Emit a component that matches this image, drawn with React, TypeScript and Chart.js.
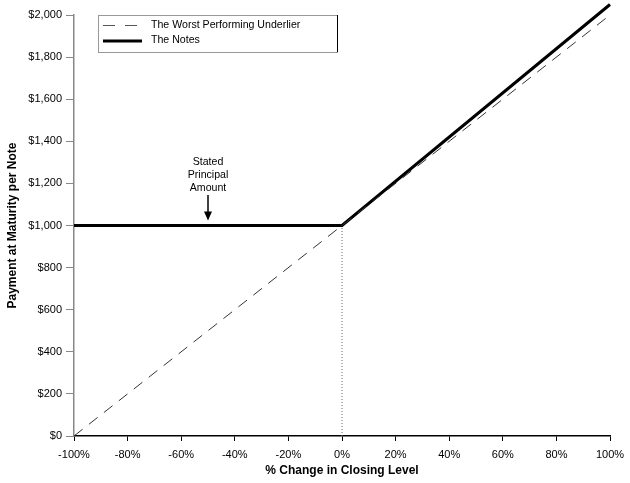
import React, { useEffect, useRef } from "react";
import { Chart, registerables } from "chart.js";

Chart.register(...registerables);

const underlierX = [-100, 100];
const underlierY = [0, 2000];
const notesX = [-100, 0, 100];
const notesY = [1000, 1000, 2050];
const dottedX = [0, 0];
const dottedY = [0, 1000];
const xTicks = [-100, -80, -60, -40, -20, 0, 20, 40, 60, 80, 100];
const yTicks = [0, 200, 400, 600, 800, 1000, 1200, 1400, 1600, 1800, 2000];
const legendLabels = ["The Worst Performing Underlier", "The Notes"];
const annotationLines = ["Stated", "Principal", "Amount"];
const annotationX = -50;
const annotationY = 1000;

const FONT = "'Liberation Sans', Arial, sans-serif";

const pts = (xs: number[], ys: number[]) => xs.map((x, i) => ({ x, y: ys[i] }));

const overlay = {
  id: "overlay",
  afterDraw(chart: any) {
    const ctx = chart.ctx;
    const xs = chart.scales.x;
    const ys = chart.scales.y;
    ctx.save();
    // legend box
    const bx = 98, by = 15, bw = 239, bh = 37;
    ctx.fillStyle = "#fff";
    ctx.fillRect(bx, by, bw, bh);
    ctx.strokeStyle = "#999";
    ctx.lineWidth = 1;
    ctx.strokeRect(bx + 0.5, by + 0.5, bw, bh);
    ctx.strokeStyle = "#000";
    ctx.beginPath();
    ctx.moveTo(bx + bw + 0.5, by);
    ctx.lineTo(bx + bw + 0.5, by + bh);
    ctx.stroke();
    // dashed sample
    ctx.strokeStyle = "#555";
    ctx.lineWidth = 1;
    ctx.setLineDash([12, 10]);
    ctx.beginPath();
    ctx.moveTo(103, 25.5);
    ctx.lineTo(142, 25.5);
    ctx.stroke();
    ctx.setLineDash([]);
    ctx.strokeStyle = "#000";
    ctx.lineWidth = 3;
    ctx.beginPath();
    ctx.moveTo(103, 41);
    ctx.lineTo(142, 41);
    ctx.stroke();
    ctx.fillStyle = "#000";
    ctx.font = `10.6px ${FONT}`;
    ctx.textAlign = "left";
    ctx.textBaseline = "middle";
    ctx.fillText(legendLabels[0], 151, 25);
    ctx.fillText(legendLabels[1], 151, 40);
    // annotation
    const ax = xs.getPixelForValue(annotationX);
    const ay = ys.getPixelForValue(annotationY);
    ctx.textAlign = "center";
    annotationLines.forEach((t, i) => ctx.fillText(t, ax, 162 + i * 13));
    ctx.lineWidth = 1.5;
    ctx.beginPath();
    ctx.moveTo(ax, 195);
    ctx.lineTo(ax, ay - 12);
    ctx.stroke();
    ctx.beginPath();
    ctx.moveTo(ax - 4, ay - 14);
    ctx.lineTo(ax + 4, ay - 14);
    ctx.lineTo(ax, ay - 5);
    ctx.closePath();
    ctx.fill();
    ctx.restore();
  },
};

export default function App() {
  const ref = useRef<HTMLCanvasElement>(null);
  useEffect(() => {
    const chart = new Chart(ref.current!, {
      type: "scatter",
      data: {
        datasets: [
          {
            label: "dotted",
            data: pts(dottedX, dottedY),
            showLine: true,
            borderColor: "#666",
            borderWidth: 1,
            borderDash: [1, 2],
            pointRadius: 0,
          },
          {
            label: legendLabels[0],
            data: pts(underlierX, underlierY),
            showLine: true,
            borderColor: "#333",
            borderWidth: 1,
            borderDash: [11, 8],
            pointRadius: 0,
          },
          {
            label: legendLabels[1],
            data: pts(notesX, notesY),
            showLine: true,
            borderColor: "#000",
            borderWidth: 3,
            pointRadius: 0,
            clip: false as any,
          },
        ],
      },
      options: {
        animation: false,
        responsive: false,
        maintainAspectRatio: false,
        layout: { padding: { left: 0, top: 15, right: 20, bottom: 0 } },
        plugins: { legend: { display: false }, tooltip: { enabled: false } },
        scales: {
          x: {
            type: "linear",
            min: -100,
            max: 100,
            afterFit: (s: any) => { s.height = 47; s.paddingLeft = 0; s.paddingRight = 0; },
            afterBuildTicks: (s: any) => { s.ticks = xTicks.map((v) => ({ value: v })); },
            ticks: {
              callback: (v: any) => `${v}%`,
              color: "#000",
              font: { family: FONT, size: 11 },
              padding: 7,
              maxRotation: 0,
            },
            grid: { display: true, drawOnChartArea: false, drawTicks: true, tickLength: 5, color: "#000" },
            border: { display: true, color: "#000", width: 1.5 },
            title: {
              display: true,
              text: "% Change in Closing Level",
              color: "#000",
              font: { family: FONT, size: 12, weight: "bold" },
              padding: { top: 0, bottom: 5 },
            },
          },
          y: {
            type: "linear",
            min: 0,
            max: 2000,
            afterFit: (s: any) => { s.width = 74; s.paddingTop = 0; s.paddingBottom = 0; },
            afterBuildTicks: (s: any) => { s.ticks = yTicks.map((v) => ({ value: v })); },
            ticks: {
              callback: (v: any) => `$${Number(v).toLocaleString("en-US")}`,
              color: "#000",
              font: { family: FONT, size: 11 },
              padding: 4,
            },
            grid: { display: true, drawOnChartArea: false, drawTicks: true, tickLength: 8, color: "#888" },
            border: { display: true, color: "#888", width: 1.5 },
            title: {
              display: true,
              text: "Payment at Maturity per Note",
              color: "#000",
              font: { family: FONT, size: 12, weight: "bold" },
              padding: { top: 5, bottom: 0 },
            },
          },
        },
      },
      plugins: [overlay],
    });
    return () => chart.destroy();
  }, []);
  return (
    <div style={{ position: "fixed", left: 0, top: 0, width: 630, height: 483, background: "#fff" }}>
      <canvas ref={ref} width={630} height={483} style={{ width: 630, height: 483 }} />
    </div>
  );
}
